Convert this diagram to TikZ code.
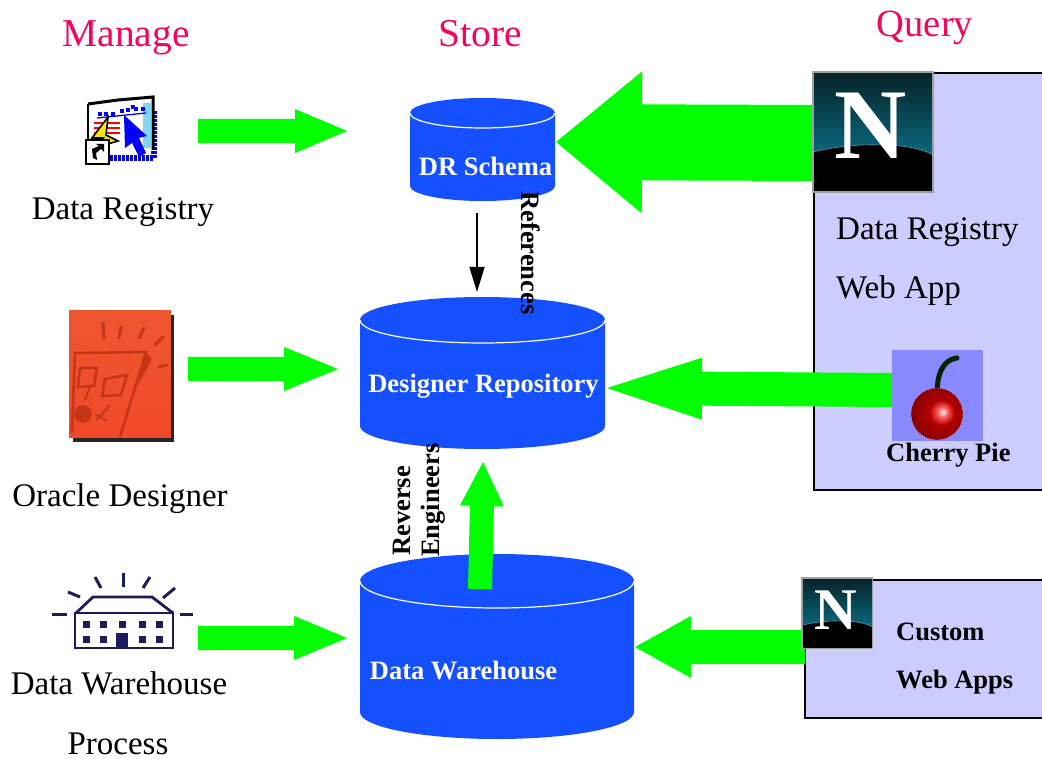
\documentclass[tikz,border=0pt]{standalone}
\usepackage{fontspec}
\setmainfont{Liberation Serif}
\usetikzlibrary{calc,arrows.meta,shadings}
\definecolor{cylblue}{HTML}{1450FF}
\definecolor{flow}{HTML}{00FF00}
\definecolor{panel}{HTML}{CCCCFF}
\definecolor{heading}{HTML}{F0055F}
\definecolor{cherrybg}{HTML}{8888FF}
\definecolor{ora}{HTML}{EE5630}
\definecolor{orad}{HTML}{BE3214}
\definecolor{navy}{HTML}{1C1C58}
\definecolor{teal1}{HTML}{062228}
\definecolor{teal2}{HTML}{0A6A80}
\pgfdeclareradialshading{cherryball}{\pgfpoint{6bp}{2bp}}{%
  color(0bp)=(white);color(5bp)=(red!65!white);color(12bp)=(red!70!black);color(30bp)=(red!50!black);color(50bp)=(red!30!black)}
\tikzset{
  x=1pt,y=-1pt,
  headtext/.style={text=heading,font=\fontsize{39.5}{44}\selectfont,inner sep=0pt,anchor=base},
  lab/.style={font=\fontsize{33}{37}\selectfont,inner sep=0pt,anchor=base},
  boldlab/.style={font=\bfseries\fontsize{26.5}{30}\selectfont,inner sep=0pt,anchor=base},
  cyltext/.style={boldlab,text=white},
  sidelab/.style={font=\bfseries\fontsize{26.5}{30}\selectfont,inner sep=0pt},
  panelbox/.style={fill=panel,draw=black,line width=1.6pt},
}
% \blockarrow{from}{to}{half shaft}{head length}{half head}
\newcommand\blockarrow[5]{%
  \coordinate (hb) at ($(#2)!#4pt!(#1)$);
  \fill[flow] ($(#1)!#3pt!90:(#2)$) -- ($(hb)!#3pt!90:(#2)$) -- ($(hb)!#5pt!90:(#2)$)
    -- (#2) -- ($(hb)!#5pt!-90:(#2)$) -- ($(hb)!#3pt!-90:(#2)$) -- ($(#1)!#3pt!-90:(#2)$) -- cycle;
}
% \cyl{x1}{x2}{top centre y}{ry}{bottom centre y}
\newcommand\cyl[5]{%
  \pgfmathsetmacro\rxx{(#2-#1)/2}
  \fill[cylblue] (#1,#3) -- (#1,#5) arc[start angle=180,end angle=360,x radius=\rxx pt,y radius=#4pt]
    -- (#2,#3) arc[start angle=0,end angle=180,x radius=\rxx pt,y radius=#4pt] -- cycle;
  \draw[white,line width=1.2pt] (#1,#3) arc[start angle=180,end angle=360,x radius=\rxx pt,y radius=#4pt];
}
% \netscape{x}{y}{scale}: tile of 120 px
\newcommand\netscape[3]{%
  \begin{scope}[shift={(#1,#2)},scale=#3,transform shape]
    \shade[top color=teal1,bottom color=teal2] (0,0) rectangle (120,84);
    \fill[black] (0,80) .. controls (25,74) and (50,72) .. (70,73) .. controls (90,73) and (110,77) .. (120,83) -- (120,120) -- (0,120) -- cycle;
    \draw[teal2!70!white,line width=.6pt] (0,80) .. controls (25,74) and (50,72) .. (70,73) .. controls (90,73) and (110,77) .. (120,83);
    \node[text=white,font=\bfseries\fontsize{100}{100}\selectfont,inner sep=0pt] at (58,54) {N};
    \draw[gray!75,line width=1.2pt] (0,0) rectangle (120,120);
  \end{scope}
}
\begin{document}
\begin{tikzpicture}
\useasboundingbox (0,0) rectangle (1042,759);
\fill[white] (0,0) rectangle (1042,759);

% panels
\path[panelbox] (1045,73) -- (814,73) -- (814,490) -- (1045,490);
\path[panelbox] (1045,580) -- (805,580) -- (805,718) -- (1045,718);

% cylinders
\cyl{410}{555}{113}{15}{186}
\cyl{360}{605}{320}{23}{426}
\cyl{360}{634}{581}{27}{712}
\node[cyltext] (drs) at (485.5,175.5) {DR Schema};
\node[cyltext] (dsr) at (483.5,392) {Designer Repository};
\node[cyltext] (dwh) at (463.5,679) {Data Warehouse};

% anchors of the block arrows
\coordinate (regR) at (198,131);   \coordinate (drsL) at (347,131);
\coordinate (oraR) at (188,369);   \coordinate (dsrL) at (338,369);
\coordinate (wprR) at (198,638);   \coordinate (dwhL) at (347,638);
\coordinate (nsL)  at (815,143);   \coordinate (drsR) at (556,142);
\coordinate (chL)  at (892,390);   \coordinate (dsrR) at (607,388);
\coordinate (cwL)  at (805,647);   \coordinate (dwhR) at (635,647);
\coordinate (dwhT) at (480,589);   \coordinate (dsrB) at (483,462);
\coordinate (drsB) at (477,213);   \coordinate (dsrT) at (477,292);

\blockarrow{regR}{drsL}{12}{52}{22}
\blockarrow{oraR}{dsrL}{12}{54}{22}
\blockarrow{wprR}{dwhL}{12}{53}{22}
\blockarrow{nsL}{drsR}{38}{86}{71}
\blockarrow{chL}{dsrR}{17}{95}{31}
\blockarrow{cwL}{dwhR}{17}{56}{31}
\blockarrow{dwhT}{dsrB}{12}{44}{22}
\draw[black,line width=1.2pt,-{Triangle[length=25pt,width=15pt]}] (drsB) -- (dsrT);

% headings
\node[headtext] (mg) at (126,47) {Manage};
\node[headtext] (st) at (480,47) {Store};
\node[headtext,font=\fontsize{38.5}{43}\selectfont] (qu) at (925,37) {Query};

% left labels
\node[lab] (l1) at (123,220) {Data Registry};
\node[lab] (l2) at (120,506) {Oracle Designer};
\node[lab] (l3) at (119,694) {Data Warehouse};
\node[lab] (l4) at (118,754) {Process};

% side labels
\node[sidelab,rotate=-90] (refs) at (531,253) {References};
\node[sidelab,rotate=90] (rev) at (402,511) {Reverse};
\node[sidelab,rotate=90] (eng) at (433,500) {Engineers};

% query labels
\node[lab,anchor=base west] (w1) at (836,240) {Data Registry};
\node[lab,anchor=base west] (w2) at (836,299) {Web App};
\node[boldlab,anchor=base west] (cp) at (886,461) {Cherry Pie};
\node[boldlab,anchor=base west] (c1) at (896,640) {Custom};
\node[boldlab,anchor=base west] (c2) at (896,688) {Web Apps};

% Netscape tiles
\netscape{813}{72}{1}
\netscape{802}{578}{0.59}

% cherry
\fill[cherrybg] (892,350) rectangle (983,441);
\draw[black!85!green,line width=5pt,line cap=round] (937,395) .. controls (937,375) and (942,360) .. (957,358);
\shade[shading=cherryball] (937,414) circle[radius=26pt];
\draw[white!70!cherrybg,line width=.6pt,dotted] (937,414) circle[radius=26pt];

% Data Registry icon
\draw[blue!85!black,line width=6pt,dash pattern=on 3pt off 1pt] (110,158) -- (154,158) -- (154,110);
\fill[white] (88,104) -- (152,98) -- (152,150) -- (88,150) -- cycle;
\draw[black,line width=3pt] (88,104) -- (118,100) (118,100) -- (153,97) -- (153,150);
\draw[black,line width=2pt] (88,104) -- (88,140);
\fill[cyan!50] (143,103) rectangle (151,148);
\foreach \px/\py in {98/112,104/112,111/112,120/109,126/108,134/107,141/107,131/105}
  \fill[blue] (\px,\py) rectangle +(4,4);
\draw[blue,line width=1.3pt] (97,118) -- (146,113);
\foreach \py in {123,128,133} \draw[red,line width=1.6pt] (94,\py) -- (120,\py);
\fill[blue] (124,115) -- (147,136) -- (139,138) -- (146,153) -- (139,157) -- (132,143) -- (125,148) -- cycle;
\fill[yellow!95!black,draw=black,line width=1.6pt] (108,117) -- (92,138) -- (103,138) -- (88,150) -- (118,141) -- (106,135) -- cycle;
\draw[black,line width=1.8pt,fill=white] (86,140) -- (109,140) -- (109,164) -- (86,164) -- cycle;
\fill[black] (92,149) -- (99,146) -- (96,144) -- (104,144) -- (104,152) -- (101,149) -- (96,153) -- (97,160) -- (93,158) -- cycle;

% Oracle Designer icon
\fill[black!85] (73,315) rectangle (174,442);
\shade[bottom color=ora!85!red,top color=ora] (69,311) rectangle (171,437);
\begin{scope}[draw=orad,line cap=round,opacity=.85]
  \draw[line width=3pt] (103,323) -- (104,338) (121,327) -- (119,338) (144,328) -- (139,338) (163,337) -- (155,345) (167,365) -- (159,367);
  \draw[line width=2.6pt] (75,353) -- (146,352) -- (120,437);
  \draw[line width=2.6pt] (75,353) -- (72,432);
  \fill[orad] (146,352) -- (152,359) -- (138,385) -- cycle;
  \draw[line width=2.6pt] (105,379) -- (127,375) -- (121,395) -- (102,396) -- cycle;
  \draw[line width=2.6pt] (80,368) -- (97,368) -- (94,386) -- (78,387) -- cycle;
  \draw[line width=2pt] (85,400) -- (90,387);
  \fill[orad] (83,414) circle[radius=9pt];
  \draw[line width=2pt] (96,415) -- (106,420) (97,420) -- (110,405);
\end{scope}

% warehouse icon
\begin{scope}[draw=navy,line width=2.8pt]
  \draw (76,613) -- (93,597) -- (152,597) -- (173,613);
  \draw (75,613) -- (173,613) -- (173,648) -- (75,648) -- cycle;
  \draw[line width=3pt] (52,614) -- (67,614) (180,614) -- (193,614);
  \draw[line width=3pt] (68,592) -- (80,597) (163,598) -- (175,588);
  \draw[line width=3pt] (95,577) -- (101,588) (150,577) -- (143,588);
  \draw[line width=3pt] (123,573) -- (123,587);
\end{scope}
\foreach \bx in {86,103,122,142,159}{\fill[navy] (\bx-3.5,621) rectangle (\bx+3.5,628);}
\foreach \bx in {86,103,142,159}{\fill[navy] (\bx-3.5,636) rectangle (\bx+3.5,643);}
\fill[navy] (116,633) rectangle (128,648);
\end{tikzpicture}
\end{document}
